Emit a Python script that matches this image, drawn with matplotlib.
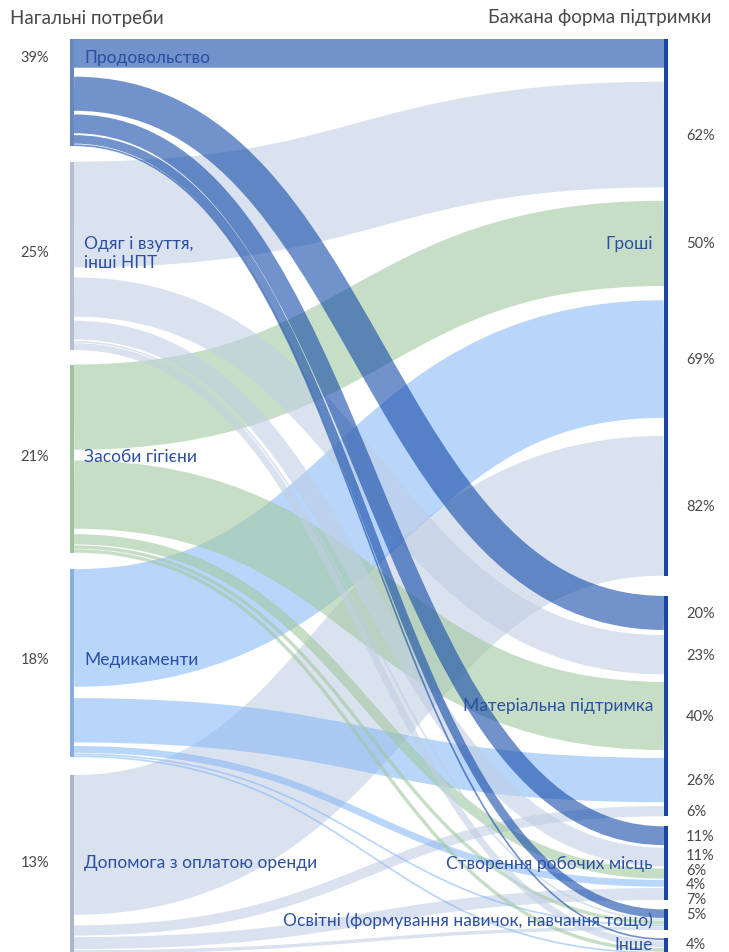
import matplotlib
matplotlib.use('Agg')
import matplotlib.pyplot as plt
import numpy as np
from matplotlib.path import Path
from matplotlib.patches import PathPatch, Rectangle
from matplotlib.colors import to_rgb

# Нагальні потреби (джерела) і бажана форма підтримки (цілі)
sources = ['Продовольство', 'Одяг і взуття,\nінші НПТ', 'Засоби гігієни',
           'Медикаменти', 'Допомога з оплатою оренди']
source_share = [39, 25, 21, 18, 13]
targets = ['Гроші', 'Матеріальна підтримка', 'Створення робочих місць',
           'Освітні (формування навичок, навчання тощо)', 'Інше']

# частка (%) кожної форми підтримки серед тих, хто має дану потребу
food = [55, 20, 11, 5, 1]
clothes = [62, 23, 11, 1, 4]
hygiene = [50, 40, 6, 2, 2]
medicine = [69, 26, 4, 1, 1]
rent = [82, 6, 7, 2, 3]
flows = [food, clothes, hygiene, medicine, rent]

# кольори стрічок такими, як вони виглядають на білому тлі
link_look = ['#7192CB', '#D9E2EF', '#C7DEC6', '#B9D5FB', '#D9E2EF']
node_colors = ['#6A88C0', '#B3BFCE', '#9CC39A', '#89AEE2', '#ABB7C9']
target_color = '#1A47A0'
label_color = '#2B4FA3'
text_color = '#484848'
alpha = 0.6


def base_color(look):
    # колір, який з прозорістю alpha на білому дає look
    c = (np.array(to_rgb(look)) - (1 - alpha)) / alpha
    return tuple(np.clip(c, 0, 1)) + (alpha,)


def spread(ys, d):
    # розсуваємо підписи, щоб не налазили один на одного
    order = sorted(range(len(ys)), key=lambda k: ys[k])
    start = lambda c: np.mean([ys[k] for k in c]) - d * (len(c) - 1) / 2
    clusters = []
    for k in order:
        clusters.append([k])
        while len(clusters) > 1:
            a, b = clusters[-2], clusters[-1]
            if start(b) < start(a) + d * len(a):
                clusters[-2] = a + b
                clusters.pop()
            else:
                break
    out = [0.0] * len(ys)
    for c in clusters:
        s = start(c)
        for m, k in enumerate(c):
            out[k] = s + m * d
    return out


plt.rcParams['font.family'] = ['Lato', 'DejaVu Sans']

W, H = 729, 953
fig = plt.figure(figsize=(W / 100, H / 100), dpi=100)
top_px = 40
ax = fig.add_axes([0, 0, 1, (H - top_px) / H])
ax.set_xlim(0, W)
view_top, view_bottom = 42, 577.5
ax.set_ylim(view_bottom, view_top)
ax.axis('off')

gap = 0.14   # проміжок між стрічками (частка ширини)
pad = 4.7    # відступ між вузлами
x_left, x_right = 74, 664
bar_w = 4

n_s, n_t = len(sources), len(targets)
src_pos = {}
tgt_pos = {}
src_bar = []
tgt_bar = []

y = 0
for i in range(n_s):
    first = last = None
    start = y
    for j in range(n_t):
        v = flows[i][j]
        top = y + v * gap / 2
        src_pos[(i, j)] = top + v / 2
        if first is None:
            first = top
        last = top + v
        y += v * (1 + gap)
    src_bar.append((first, last, (start + y) / 2))
    y += pad

y = 0
for j in range(n_t):
    first = last = None
    start = y
    for i in range(n_s):
        v = flows[i][j]
        top = y + v * gap / 2
        tgt_pos[(i, j)] = top + v / 2
        if first is None:
            first = top
        last = top + v
        y += v * (1 + gap)
    tgt_bar.append((first, last, (start + y) / 2))
    y += pad

px_per_unit = (H - top_px) / (view_bottom - view_top)
xm = (x_left + x_right) / 2

# світлі стрічки знизу, продовольство зверху
for i in reversed(range(n_s)):
    for j in range(n_t):
        v = flows[i][j]
        y0, y1 = src_pos[(i, j)], tgt_pos[(i, j)]
        path = Path([(x_left, y0), (xm, y0), (xm, y1), (x_right, y1)],
                    [Path.MOVETO, Path.CURVE4, Path.CURVE4, Path.CURVE4])
        lw = v * px_per_unit * 72 / 100
        ax.add_patch(PathPatch(path, fill=False, lw=lw, capstyle='butt',
                               edgecolor=base_color(link_look[i])))

# вузли зліва
for i in range(n_s):
    b0, b1, c = src_bar[i]
    ax.add_patch(Rectangle((x_left - bar_w, b0), bar_w, b1 - b0,
                           color=node_colors[i], lw=0))
    ax.text(x_left + 10, c, sources[i], ha='left', va='center',
            fontsize=12.5, color=label_color, linespacing=1.2)
    ax.text(35, c, f'{source_share[i]}%', ha='center', va='center',
            fontsize=10.5, color=text_color)

# вузли справа
edge = view_bottom - 8 / px_per_unit
labels = []
for j in range(n_t):
    b0, b1, c = tgt_bar[j]
    ax.add_patch(Rectangle((x_right, b0), bar_w, b1 - b0,
                           color=target_color, lw=0))
    ly = tgt_pos[(2, 0)] if j == 0 else min(c, edge)
    ax.text(x_right - 11, ly, targets[j], ha='right', va='center',
            fontsize=12.5, color=label_color)
    for i in range(n_s):
        v = flows[i][j]
        if v >= 4:
            labels.append((tgt_pos[(i, j)], f'{v}%'))

ys = spread([p for p, _ in labels], 14.5 / px_per_unit)
for yy, (_, s) in zip(ys, labels):
    if view_top < yy:
        ax.text(686, min(yy, edge), s, ha='left', va='center', fontsize=10.5,
                color=text_color)

fig.text(10 / W, 1 - 18 / H, 'Нагальні потреби', ha='left', va='center',
         fontsize=13.5, color=text_color)
fig.text(711 / W, 1 - 18 / H, 'Бажана форма підтримки', ha='right',
         va='center', fontsize=13.5, color=text_color)

fig.savefig('out.png', dpi=100)
